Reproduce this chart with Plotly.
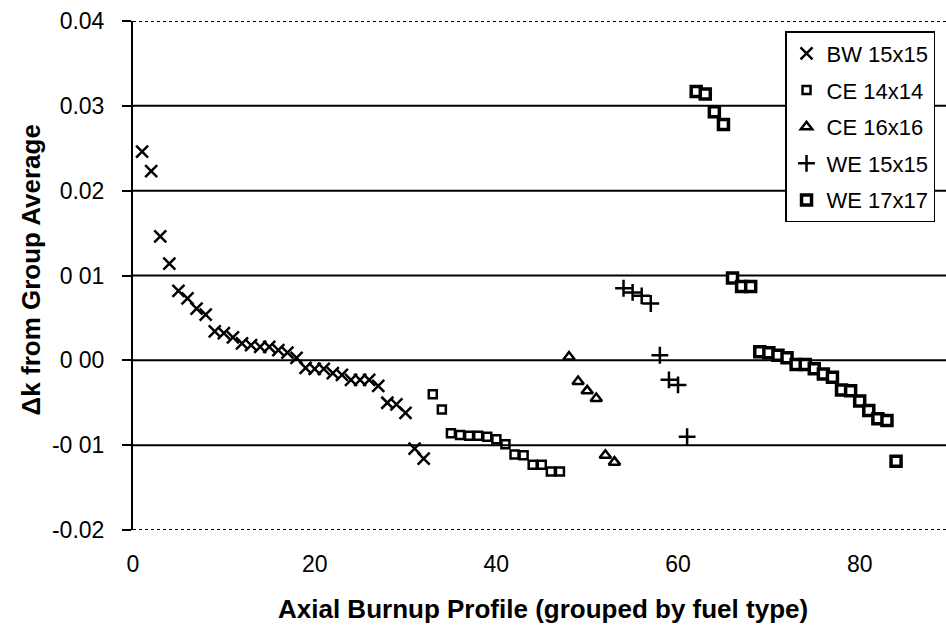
import plotly.graph_objects as go

# Profile index (x) and delta-k from the group average (y) for each fuel type
bw_x = list(range(1, 33))
bw_y = [0.0246, 0.0223, 0.0146, 0.0114, 0.0082, 0.0073, 0.0061, 0.0054,
        0.0034, 0.0032, 0.0027, 0.0020, 0.0018, 0.0016, 0.0016, 0.0012,
        0.0009, 0.0003, -0.0009, -0.0010, -0.0010, -0.0015, -0.0017, -0.0023,
        -0.0023, -0.0023, -0.0030, -0.0050, -0.0052, -0.0062, -0.0104, -0.0116]

ce14_x = list(range(33, 48))
ce14_y = [-0.0040, -0.0058, -0.0086, -0.0088, -0.0089, -0.0089, -0.0090,
          -0.0093, -0.0099, -0.0111, -0.0112, -0.0123, -0.0123, -0.0131, -0.0131]

ce16_x = list(range(48, 54))
ce16_y = [0.0004, -0.0025, -0.0036, -0.0045, -0.0112, -0.0120]

we15_x = list(range(54, 62))
we15_y = [0.0085, 0.0080, 0.0076, 0.0067, 0.0006, -0.0023, -0.0029, -0.0090]

we17_x = list(range(62, 85))
we17_y = [0.0317, 0.0314, 0.0293, 0.0278, 0.0097, 0.0087, 0.0087, 0.0010,
          0.0009, 0.0006, 0.0003, -0.0005, -0.0005, -0.0010, -0.0016, -0.0020,
          -0.0035, -0.0036, -0.0048, -0.0059, -0.0069, -0.0071, -0.0119]

x_ticks = [0, 20, 40, 60, 80]
y_ticks = [-0.02, -0.01, 0.00, 0.01, 0.02, 0.03, 0.04]
y_tick_text = ["-0.02", "-0 01", "0 00", "0 01", "0.02", "0.03", "0.04"]

FONT = "Liberation Sans, Arial, sans-serif"

series = [
    ("BW 15x15", bw_x, bw_y, dict(symbol="x-thin", size=12, color="black",
                                  line=dict(width=2.5, color="black"))),
    ("CE 14x14", ce14_x, ce14_y, dict(symbol="square-open", size=8, color="black",
                                      line=dict(width=2.5, color="black"))),
    ("CE 16x16", ce16_x, ce16_y, dict(symbol="triangle-up-open", size=10, color="black",
                                      line=dict(width=2.5, color="black"))),
    ("WE 15x15", we15_x, we15_y, dict(symbol="cross-thin", size=12, color="black",
                                      line=dict(width=2.5, color="black"))),
    ("WE 17x17", we17_x, we17_y, dict(symbol="square", size=10, color="white",
                                      line=dict(width=3.5, color="black"))),
]

fig = go.Figure()
for name, xs, ys, marker in series:
    fig.add_trace(go.Scatter(x=xs, y=ys, mode="markers", name=name,
                             legendgroup=name, marker=marker))

# horizontal reference lines at the inner tick values
for v in y_ticks[1:-1]:
    fig.add_shape(type="line", xref="paper", x0=0, x1=1, yref="y", y0=v, y1=v,
                  line=dict(color="black", width=2), layer="below")

# dotted frame along top and bottom of the plot area
for v in (y_ticks[0], y_ticks[-1]):
    fig.add_shape(type="line", xref="paper", x0=0, x1=1, yref="y", y0=v, y1=v,
                  line=dict(color="black", width=2, dash="dot"), layer="above")

fig.update_layout(
    width=946, height=634,
    margin=dict(l=133, r=0, t=21, b=104),
    paper_bgcolor="white", plot_bgcolor="white",
    font=dict(family=FONT, size=23, color="black"),
    showlegend=True,
    legend=dict(x=0.802, y=0.98, xanchor="left", yanchor="top",
                bordercolor="black", borderwidth=1.5, bgcolor="white",
                font=dict(size=22), traceorder="grouped", tracegroupgap=5,
                itemwidth=30),
    xaxis=dict(range=[0, 89.5], tickvals=x_ticks, showgrid=False, zeroline=False,
               showline=False, ticks="", ticklabelstandoff=18,
               tickfont=dict(size=23)),
    yaxis=dict(range=[-0.02, 0.04], tickvals=y_ticks, ticktext=y_tick_text,
               showgrid=False, zeroline=False, showline=True, linecolor="black",
               linewidth=2, ticks="outside", ticklen=9, tickwidth=1.5,
               tickcolor="black", ticklabelstandoff=13, tickfont=dict(size=23)),
    annotations=[
        dict(text="<b>Axial Burnup Profile (grouped by fuel type)</b>",
             xref="paper", yref="paper", x=(543 - 133) / 813, y=-0.155,
             xanchor="center", yanchor="middle", showarrow=False,
             font=dict(size=26)),
        dict(text="<b>Δk from Group Average</b>", textangle=-90,
             xref="paper", yref="paper", x=-0.125, y=(530 - 270) / 509,
             xanchor="center", yanchor="middle", showarrow=False,
             font=dict(size=26)),
    ],
)

fig.write_html("out.html")
